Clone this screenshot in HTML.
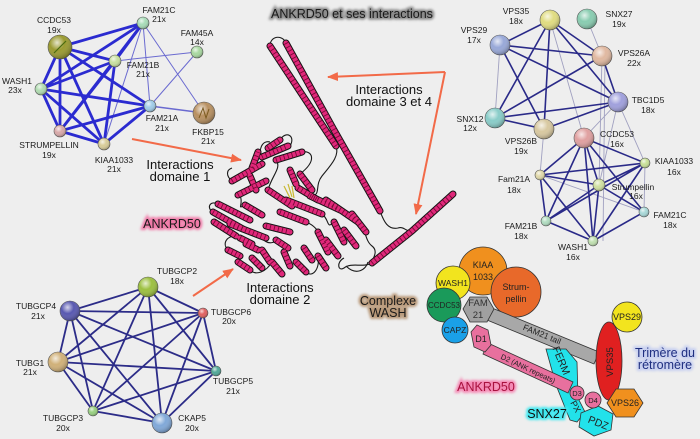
<!DOCTYPE html>
<html><head><meta charset="utf-8">
<style>
html,body{margin:0;padding:0;background:#eeeeee;}
svg{display:block;}
.lb{font-family:"Liberation Sans",sans-serif;font-size:8.5px;fill:#1a1a1a;text-anchor:middle;}
.big{font-family:"Liberation Sans",sans-serif;font-size:13px;fill:#111;text-anchor:middle;}
.gl{font-family:"Liberation Sans",sans-serif;font-size:12.5px;text-anchor:middle;}
.sc{font-family:"Liberation Sans",sans-serif;font-size:9px;fill:#222;text-anchor:middle;}
</style></head><body>
<svg width="700" height="439" viewBox="0 0 700 439" xmlns="http://www.w3.org/2000/svg">
<defs>
<radialGradient id="sh" cx="0.38" cy="0.32" r="0.7">
<stop offset="0" stop-color="#fff" stop-opacity="0.75"/>
<stop offset="0.45" stop-color="#fff" stop-opacity="0"/>
<stop offset="1" stop-color="#000" stop-opacity="0.3"/>
</radialGradient>
<filter id="bl" x="-20%" y="-60%" width="140%" height="220%"><feGaussianBlur stdDeviation="1.3"/></filter>
<marker id="ah" markerWidth="11" markerHeight="9" refX="10" refY="4.5" orient="auto" markerUnits="userSpaceOnUse"><path d="M0 0 L11 4.5 L0 9z" fill="#f26a48"/></marker>
<g id="hx">
<path d="M270 46 L336 146"/>
<path d="M286 43 L334 130 L380 211"/>
<path d="M372 263 L412 231 L453 194"/>
<path d="M232 181 L262 164"/>
<path d="M238 195 L266 181"/>
<path d="M262 157 L288 146"/>
<path d="M276 160 L302 152"/>
<path d="M268 148 L280 140"/>
<path d="M252 168 L258 152"/>
<path d="M268 190 L292 206"/>
<path d="M286 200 L322 214"/>
<path d="M298 188 L318 200"/>
<path d="M280 212 L306 222"/>
<path d="M300 174 L312 190"/>
<path d="M213 212 L243 229"/>
<path d="M218 204 L250 220"/>
<path d="M230 224 L266 238"/>
<path d="M214 222 L236 236"/>
<path d="M245 205 L262 215"/>
<path d="M310 196 L340 210"/>
<path d="M326 200 L358 222"/>
<path d="M334 222 L344 242"/>
<path d="M318 232 L328 252"/>
<path d="M344 230 L356 246"/>
<path d="M352 214 L366 232"/>
<path d="M228 250 L240 256"/>
<path d="M238 262 L250 270"/>
<path d="M252 258 L262 268"/>
<path d="M262 250 L270 262"/>
<path d="M272 262 L282 274"/>
<path d="M284 252 L290 266"/>
<path d="M296 262 L306 272"/>
<path d="M304 248 L312 260"/>
<path d="M318 256 L326 268"/>
<path d="M246 244 L258 250"/>
<path d="M276 240 L288 248"/>
<path d="M250 176 L256 190"/>
<path d="M290 170 L296 184"/>
<path d="M266 226 L290 232"/>
<path d="M326 240 L338 256"/>
<path d="M240 238 L252 244"/>
</g>
</defs>

<rect width="700" height="439" fill="#eeeeee"/>

<!-- ===== Top-left network ===== -->
<g stroke="#6a6ad0" stroke-width="1" fill="none">
<path d="M143 23 L104 144 M143 23 L204 113 M197 52 L115 61 M197 52 L150 106 M143 23 L150 106"/>
<path d="M150 106 L204 113" stroke-width="1.6"/>
</g>
<g stroke="#2b2bd0" stroke-width="2.8" fill="none" stroke-linecap="round">
<path d="M60 47 L41 89 M60 47 L60 131 M60 47 L104 144 M60 47 L115 61 M60 47 L150 106 M60 47 L143 23"/>
<path d="M41 89 L115 61 M41 89 L150 106 M41 89 L60 131 M41 89 L104 144 M41 89 L143 23"/>
<path d="M60 131 L115 61 M60 131 L150 106 M60 131 L104 144 M60 131 L143 23"/>
<path d="M104 144 L115 61 M104 144 L150 106 M115 61 L143 23"/>
</g>
<g stroke="#555" stroke-width="0.6">
<circle cx="60" cy="47" r="12" fill="#9a9a30"/><circle cx="60" cy="47" r="12" fill="url(#sh)" stroke="none"/>
<circle cx="143" cy="23" r="6" fill="#a8dcb8"/><circle cx="143" cy="23" r="6" fill="url(#sh)" stroke="none"/>
<circle cx="197" cy="52" r="6" fill="#a8d8a0"/><circle cx="197" cy="52" r="6" fill="url(#sh)" stroke="none"/>
<circle cx="115" cy="61" r="6" fill="#c8e0a0"/><circle cx="115" cy="61" r="6" fill="url(#sh)" stroke="none"/>
<circle cx="41" cy="89" r="6" fill="#b0dcb0"/><circle cx="41" cy="89" r="6" fill="url(#sh)" stroke="none"/>
<circle cx="150" cy="106" r="6" fill="#a0cce8"/><circle cx="150" cy="106" r="6" fill="url(#sh)" stroke="none"/>
<circle cx="204" cy="113" r="11" fill="#b89060"/><circle cx="204" cy="113" r="11" fill="url(#sh)" stroke="none"/>
<circle cx="60" cy="131" r="6" fill="#d8a8a8"/><circle cx="60" cy="131" r="6" fill="url(#sh)" stroke="none"/>
<circle cx="104" cy="144" r="6" fill="#d8cc98"/><circle cx="104" cy="144" r="6" fill="url(#sh)" stroke="none"/>
</g>
<path d="M54 53 L66 41" stroke="#4a6a10" stroke-width="1.2"/>
<path d="M199 118 L203 108 L206 118 L209 109" stroke="#7a5a20" stroke-width="1" fill="none"/>
<g class="lb">
<text x="54" y="23">CCDC53</text><text x="54" y="33">19x</text>
<text x="159" y="13">FAM21C</text><text x="159" y="22">21x</text>
<text x="197" y="36">FAM45A</text><text x="197" y="45">14x</text>
<text x="143" y="68">FAM21B</text><text x="143" y="77">21x</text>
<text x="17" y="84">WASH1</text><text x="15" y="93">23x</text>
<text x="162" y="121">FAM21A</text><text x="162" y="131">21x</text>
<text x="208" y="135">FKBP15</text><text x="208" y="144">21x</text>
<text x="49" y="148">STRUMPELLIN</text><text x="49" y="158">19x</text>
<text x="114" y="163">KIAA1033</text><text x="114" y="172">21x</text>
</g>

<!-- ===== Bottom-left network ===== -->
<g stroke="#2c2c88" stroke-width="1.8" fill="none">
<path d="M148 287 L70 311 M148 287 L203 313 M148 287 L58 362 M148 287 L216 371 M148 287 L93 411 M148 287 L162 423"/>
<path d="M70 311 L203 313 M70 311 L58 362 M70 311 L216 371 M70 311 L93 411 M70 311 L162 423"/>
<path d="M203 313 L58 362 M203 313 L216 371 M203 313 L93 411 M203 313 L162 423"/>
<path d="M58 362 L216 371 M58 362 L93 411 M58 362 L162 423"/>
<path d="M216 371 L93 411 M216 371 L162 423 M93 411 L162 423"/>
</g>
<g stroke="#555" stroke-width="0.6">
<circle cx="148" cy="287" r="10" fill="#9cc040"/><circle cx="148" cy="287" r="10" fill="url(#sh)" stroke="none"/>
<circle cx="70" cy="311" r="10" fill="#5858b0"/><circle cx="70" cy="311" r="10" fill="url(#sh)" stroke="none"/>
<circle cx="203" cy="313" r="5" fill="#e06060"/><circle cx="203" cy="313" r="5" fill="url(#sh)" stroke="none"/>
<circle cx="58" cy="362" r="10" fill="#d0b078"/><circle cx="58" cy="362" r="10" fill="url(#sh)" stroke="none"/>
<circle cx="216" cy="371" r="5" fill="#50a898"/><circle cx="216" cy="371" r="5" fill="url(#sh)" stroke="none"/>
<circle cx="93" cy="411" r="5" fill="#98d080"/><circle cx="93" cy="411" r="5" fill="url(#sh)" stroke="none"/>
<circle cx="162" cy="423" r="10" fill="#80a8d8"/><circle cx="162" cy="423" r="10" fill="url(#sh)" stroke="none"/>
</g>
<g class="lb">
<text x="177" y="274">TUBGCP2</text><text x="177" y="284">18x</text>
<text x="36" y="309">TUBGCP4</text><text x="38" y="319">21x</text>
<text x="231" y="315">TUBGCP6</text><text x="229" y="324">20x</text>
<text x="30" y="366">TUBG1</text><text x="30" y="375">21x</text>
<text x="233" y="384">TUBGCP5</text><text x="233" y="394">21x</text>
<text x="63" y="421">TUBGCP3</text><text x="63" y="431">20x</text>
<text x="192" y="421">CKAP5</text><text x="192" y="431">20x</text>
</g>

<!-- ===== Top-right network ===== -->
<g stroke="#a0a0c0" stroke-width="0.9" fill="none">
<path d="M500 45 L495 118 M587 19 L602 56 M550 20 L584 138 M602 56 L599 185 M605 56 L603 241 M618 102 L584 138 M618 102 L599 185 M544 129 L540 175 M618 102 L645 163 M645 163 L644 212 M540 175 L644 212"/>
</g>
<g stroke="#2a2a88" stroke-width="1.6" fill="none">
<path d="M550 20 L500 45 M550 20 L602 56 M550 20 L618 102 M550 20 L495 118 M550 20 L544 129"/>
<path d="M500 45 L602 56 M500 45 L618 102 M500 45 L544 129 M602 56 L495 118 M602 56 L618 102"/>
<path d="M495 118 L544 129 M495 118 L618 102 M544 129 L618 102"/>
<path d="M584 138 L540 175 M584 138 L645 163 M584 138 L599 185 M584 138 L546 221 M584 138 L644 212 M584 138 L593 241"/>
<path d="M540 175 L645 163 M540 175 L599 185 M540 175 L546 221 M540 175 L593 241"/>
<path d="M645 163 L546 221 M645 163 L593 241 M645 163 L599 185"/>
<path d="M599 185 L546 221 M599 185 L593 241 M546 221 L593 241 M644 212 L593 241 M599 185 L644 212"/>
</g>
<g stroke="#555" stroke-width="0.6">
<circle cx="550" cy="20" r="10" fill="#e0dc80"/><circle cx="550" cy="20" r="10" fill="url(#sh)" stroke="none"/>
<circle cx="587" cy="19" r="10" fill="#88ccb0"/><circle cx="587" cy="19" r="10" fill="url(#sh)" stroke="none"/>
<circle cx="500" cy="45" r="10" fill="#98a8d8"/><circle cx="500" cy="45" r="10" fill="url(#sh)" stroke="none"/>
<circle cx="602" cy="56" r="10" fill="#e0b8a0"/><circle cx="602" cy="56" r="10" fill="url(#sh)" stroke="none"/>
<circle cx="618" cy="102" r="10" fill="#a0a0dc"/><circle cx="618" cy="102" r="10" fill="url(#sh)" stroke="none"/>
<circle cx="495" cy="118" r="10" fill="#88ccc8"/><circle cx="495" cy="118" r="10" fill="url(#sh)" stroke="none"/>
<circle cx="544" cy="129" r="10" fill="#d8c8a0"/><circle cx="544" cy="129" r="10" fill="url(#sh)" stroke="none"/>
<circle cx="584" cy="138" r="10" fill="#e0a0a0"/><circle cx="584" cy="138" r="10" fill="url(#sh)" stroke="none"/>
<circle cx="645" cy="163" r="5" fill="#c8e098"/><circle cx="645" cy="163" r="5" fill="url(#sh)" stroke="none"/>
<circle cx="540" cy="175" r="5" fill="#e0d8a8"/><circle cx="540" cy="175" r="5" fill="url(#sh)" stroke="none"/>
<circle cx="599" cy="185" r="6" fill="#d0e0a0"/><circle cx="599" cy="185" r="6" fill="url(#sh)" stroke="none"/>
<circle cx="644" cy="212" r="5" fill="#a8d8d8"/><circle cx="644" cy="212" r="5" fill="url(#sh)" stroke="none"/>
<circle cx="546" cy="221" r="5" fill="#b0dcc0"/><circle cx="546" cy="221" r="5" fill="url(#sh)" stroke="none"/>
<circle cx="593" cy="241" r="5" fill="#c0e0b0"/><circle cx="593" cy="241" r="5" fill="url(#sh)" stroke="none"/>
</g>
<g class="lb">
<text x="516" y="14">VPS35</text><text x="516" y="24">18x</text>
<text x="619" y="17">SNX27</text><text x="619" y="27">19x</text>
<text x="474" y="33">VPS29</text><text x="474" y="43">17x</text>
<text x="634" y="56">VPS26A</text><text x="634" y="66">22x</text>
<text x="648" y="103">TBC1D5</text><text x="648" y="113">18x</text>
<text x="470" y="122">SNX12</text><text x="470" y="131">12x</text>
<text x="521" y="144">VPS26B</text><text x="521" y="154">19x</text>
<text x="617" y="137">CCDC53</text><text x="617" y="147">16x</text>
<text x="674" y="164">KIAA1033</text><text x="674" y="175">16x</text>
<text x="514" y="182">Fam21A</text><text x="514" y="193">18x</text>
<text x="633" y="190">Strumpellin</text><text x="636" y="199">16x</text>
<text x="670" y="218">FAM21C</text><text x="670" y="228">18x</text>
<text x="521" y="229">FAM21B</text><text x="521" y="239">18x</text>
<text x="573" y="250">WASH1</text><text x="573" y="260">16x</text>
</g>

<!-- ===== Protein ===== -->
<g stroke="#1a1a1a" stroke-width="1.1" fill="none">
<path d="M270 46 C270 36 282 34 286 43"/>
<path d="M380 211 C384 222 388 230 398 228 C404 226 406 232 412 231"/>
<path d="M372 263 C362 268 352 262 344 268 C338 272 336 262 344 258"/>
<path d="M262 157 C258 150 262 140 270 142"/>
<path d="M232 181 C226 176 226 170 232 168"/>
<path d="M276 160 C282 168 272 175 268 190"/>
<path d="M213 212 C206 208 210 200 218 204"/>
<path d="M336 146 C340 156 330 166 322 176 C314 186 322 196 310 196"/>
<path d="M306 222 C316 226 318 232 318 232"/>
<path d="M262 238 C268 246 276 242 276 240"/>
<path d="M358 222 C366 226 364 240 372 246 C380 252 370 262 372 263"/>
<path d="M228 250 C222 244 226 236 236 236"/>
<path d="M240 195 C244 205 236 210 245 205"/>
<path d="M302 152 C312 150 318 160 300 174"/>
<path d="M322 214 C330 220 326 230 334 222"/>
<path d="M250 270 C256 276 266 272 272 262"/>
<path d="M306 272 C312 278 320 270 318 256"/>
<path d="M346 266 C356 276 366 270 368 262"/>
<path d="M280 140 C286 130 296 136 290 146"/>
</g>
<use href="#hx" stroke="#141414" stroke-width="7" fill="none" stroke-linecap="round"/>
<use href="#hx" stroke="#e0287a" stroke-width="5" fill="none" stroke-linecap="round"/>
<use href="#hx" stroke="#7a0a38" stroke-width="5" fill="none" stroke-dasharray="0.9 3.2"/>
<path d="M284 186 L290 198 M288 184 L292 197 M292 186 L294 198" stroke="#c8b830" stroke-width="1.2"/>

<!-- ===== Arrows ===== -->
<g stroke="#f26a48" stroke-width="2" fill="none" marker-end="url(#ah)">
<path d="M132 139 L241 160"/>
<path d="M193 296 L233 269"/>
<path d="M445 72 L328 77"/>
<path d="M445 72 L416 214"/>
</g>

<!-- ===== Schematic ===== -->
<g stroke="#333" stroke-width="0.8">
<circle cx="483" cy="271" r="24" fill="#f0901e"/>
<circle cx="516" cy="292" r="25" fill="#e8692a"/>
<circle cx="453" cy="283" r="17" fill="#f2e41e"/>
<circle cx="444" cy="305" r="17" fill="#1a9a5a"/>
<circle cx="455" cy="330" r="13" fill="#1aa0e8"/>
<polygon points="492,308 599,352 594,364 487,320" fill="#a8a8a8"/>
<polygon points="463,309 470,297 487,297 494,309 487,322 470,322" fill="#a0a0a0"/>
<polygon points="546,349 566,349 577,362 578,398 585,412 577,422 570,420 556,385" fill="#22e2ea"/>
<polygon points="488,343 573,382 568,393 483,354" fill="#e8709e"/>
<polygon points="477,325 488,330 491,345 485,352 474,347 471,332" fill="#e8709e"/>
<circle cx="577" cy="393" r="7" fill="#e8709e"/>
<polygon points="581,413 598,406 613,414 611,430 594,436 579,427" fill="#22e2ea"/>
<circle cx="593" cy="400" r="8" fill="#e8709e"/>
<ellipse cx="609" cy="361" rx="13" ry="39" fill="#e02020"/>
<circle cx="627" cy="317" r="15" fill="#f2e41e"/>
<polygon points="607,403 616,389 634,389 643,403 634,417 616,417" fill="#f0901e"/>
</g>
<g class="sc">
<text x="483" y="268">KIAA</text><text x="483" y="280">1033</text>
<text x="516" y="290">Strum-</text><text x="516" y="302">pellin</text>
<text x="453" y="286" font-size="8.5">WASH1</text>
<text x="444" y="308" font-size="8">CCDC53</text>
<text x="455" y="333" font-size="8.5">CAPZ</text>
<text x="478" y="306" font-size="9.5" fill="#333">FAM</text><text x="478" y="318" font-size="9.5" fill="#333">21</text>
<text x="481" y="342" font-size="9">D1</text>
<text transform="translate(541,337) rotate(22)" font-size="8.5">FAM21 tail</text>
<text transform="translate(527,371) rotate(25)" font-size="7.5">D2 (ANK repeats)</text>
<text x="577" y="396" font-size="7.5">D3</text>
<text x="593" y="403" font-size="7.5">D4</text>
<text transform="translate(558,362) rotate(67)" font-size="10.5">FERM</text>
<text transform="translate(573,408) rotate(62)" font-size="9">PX</text>
<text transform="translate(597,426) rotate(22)" font-size="10.5">PDZ</text>
<text transform="translate(613,362) rotate(-90)" font-size="9.5">VPS35</text>
<text x="627" y="320" font-size="9">VPS29</text>
<text x="625" y="406" font-size="9">VPS26</text>
</g>

<!-- ===== Glow labels ===== -->
<g class="gl">
<text x="352" y="18" stroke="#8a8a8a" stroke-width="3.5" fill="#8a8a8a" filter="url(#bl)">ANKRD50 et ses interactions</text>
<text x="352" y="18" fill="#1a1a1a">ANKRD50 et ses interactions</text>

<text x="172" y="228" stroke="#f07aa8" stroke-width="4" fill="#f07aa8" filter="url(#bl)">ANKRD50</text>
<text x="172" y="228" fill="#1a1a1a">ANKRD50</text>

<text x="388" y="305" stroke="#b89878" stroke-width="4" fill="#b89878" filter="url(#bl)">Complexe</text>
<text x="388" y="317" stroke="#b89878" stroke-width="4" fill="#b89878" filter="url(#bl)">WASH</text>
<text x="388" y="305" fill="#1a1a1a">Complexe</text>
<text x="388" y="317" fill="#1a1a1a">WASH</text>

<text x="486" y="391" stroke="#f58ab5" stroke-width="4" fill="#f58ab5" filter="url(#bl)">ANKRD50</text>
<text x="486" y="391" fill="#a8123e">ANKRD50</text>

<text x="547" y="418" stroke="#40e8f0" stroke-width="4" fill="#40e8f0" filter="url(#bl)">SNX27</text>
<text x="547" y="418" fill="#111">SNX27</text>

<text x="665" y="357" stroke="#c8d0f0" stroke-width="4" fill="#c8d0f0" filter="url(#bl)">Trimère du</text>
<text x="665" y="369" stroke="#c8d0f0" stroke-width="4" fill="#c8d0f0" filter="url(#bl)">rétromère</text>
<text x="665" y="357" fill="#1f2f80">Trimère du</text>
<text x="665" y="369" fill="#1f2f80">rétromère</text>
</g>

<g class="big">
<text x="180" y="169">Interactions</text><text x="180" y="181">domaine 1</text>
<text x="389" y="94">Interactions</text><text x="389" y="106">domaine 3 et 4</text>
<text x="280" y="292">Interactions</text><text x="280" y="304">domaine 2</text>
</g>
</svg>
</body></html>
